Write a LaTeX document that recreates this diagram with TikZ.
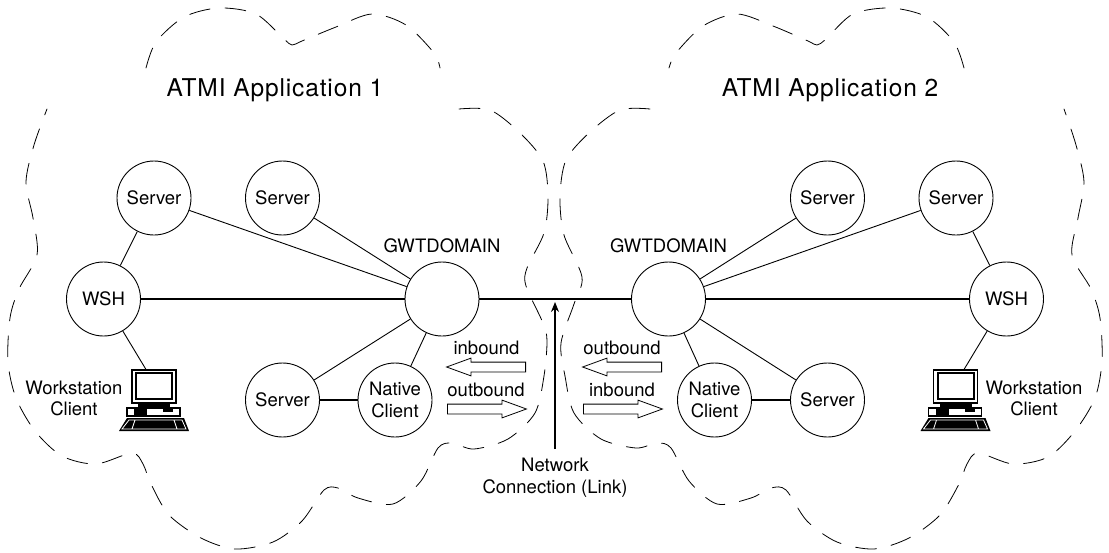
\documentclass[tikz,border=0pt]{standalone}
\usepackage{fontspec}
\setmainfont{TeX Gyre Heros}
\usetikzlibrary{arrows.meta, positioning, shapes.arrows}

\tikzset{
    proc/.style={circle, draw, line width=0.9pt, minimum size=74pt, inner sep=0pt, align=center},
    txt/.style={font=\fontsize{18.5}{21.5}\selectfont, align=center, inner sep=0pt},
    title/.style={font=\fontsize{24.5}{28}\selectfont\addfontfeatures{LetterSpace=3.6}, inner sep=0pt},
    link/.style={line width=0.9pt},
    trunk/.style={line width=2pt},
    cloud/.style={line width=0.8pt, dash pattern=on 21pt off 15pt, line cap=round},
    flow/.style={single arrow, draw, line width=0.8pt, minimum height=79pt, minimum width=17pt, anchor=tail,
        single arrow head extend=4pt, single arrow tip angle=40, single arrow head indent=0pt, inner sep=4.5pt},
    workstation/.pic={
        \draw [line width=1.6pt] (-22,-30) rectangle (22,3);
        \draw [line width=2pt] (-18,-27) rectangle (18,-1);
        \fill (-16,3) rectangle (16,8);
        \draw [line width=1.2pt] (-27,8) rectangle (26,16);
        \fill (-20,8) rectangle (-7,15);
        \fill (9,8) rectangle (19,12);
        \fill (-27,18) -- (30,18) -- (35,31) -- (-35,31) -- cycle;
        \draw [white, line width=0.8pt] (-25,20) -- (28,20) -- (32,29) -- (-32,29) -- cycle
            (-19,20) -- (-22,29) (20,20) -- (23,29);
    }
}

\begin{document}
\begin{tikzpicture}[x=1pt, y=-1pt, on grid]
    \useasboundingbox (0,0) rectangle (1109,552);

    % left domain
    \node (gw1) [proc] at (442,299) {};
    \node (srv1) [proc, above left=101pt and 288pt of gw1, txt] {Server};
    \node (srv2) [proc, above left=101pt and 159.5pt of gw1, txt] {Server};
    \node (wsh1) [proc, left=338.5pt of gw1, txt] {WSH};
    \node (srv3) [proc, below left=101pt and 159.5pt of gw1, txt] {Server};
    \node (nat1) [proc, below left=101pt and 47pt of gw1, txt] {Native\\Client};
    \node (gwl1) [above=53pt of gw1, txt] {GWTDOMAIN};

    % right domain
    \node (gw2) [proc, right=226.5pt of gw1] {};
    \node (srv4) [proc, above right=101pt and 159pt of gw2, txt] {Server};
    \node (srv5) [proc, above right=101pt and 287.5pt of gw2, txt] {Server};
    \node (wsh2) [proc, right=338pt of gw2, txt] {WSH};
    \node (srv6) [proc, below right=101pt and 159pt of gw2, txt] {Server};
    \node (nat2) [proc, below right=101pt and 46pt of gw2, txt] {Native\\Client};
    \node (gwl2) [above=53pt of gw2, txt] {GWTDOMAIN};

    \node (app1) [title] at (275,90) {ATMI Application 1};
    \node (app2) [title] at (830,90) {ATMI Application 2};

    \node (wsc1) [txt] at (74,398.5) {Workstation\\Client};
    \node (wsc2) [txt] at (1034,398.5) {Workstation\\Client};
    \node (net) [txt] at (555,477.5) {Network\\Connection (Link)};

    \pic at (154,400) {workstation};
    \pic at (955.5,400) {workstation};
    \coordinate (pc1) at (146,369.5);
    \coordinate (pc2) at (964,369.5);
    \coordinate (hit) at (555,302);
    \coordinate (tail) at (555,449);

    \node (in1) [txt] at (486.5,348) {inbound};
    \node (out1) [txt] at (486,390) {outbound};
    \node (out2) [txt] at (622,348) {outbound};
    \node (in2) [txt] at (622,390) {inbound};
    \node (arr1) [flow, shape border rotate=180] at (526,367) {};
    \node (arr2) [flow] at (447,409) {};
    \node (arr3) [flow, shape border rotate=180] at (662,367) {};
    \node (arr4) [flow] at (583,409) {};

    \path [link]
    (srv1) edge (gw1)
    (srv2) edge (gw1)
    (srv3) edge (gw1)
    (nat1) edge (gw1)
    (srv1) edge (wsh1)
    (wsh1) edge (pc1)
    (srv4) edge (gw2)
    (srv5) edge (gw2)
    (srv6) edge (gw2)
    (nat2) edge (gw2)
    (srv5) edge (wsh2)
    (wsh2) edge (pc2);

    \path [trunk]
    (wsh1) edge (gw1)
    (gw1) edge (gw2)
    (gw2) edge (wsh2)
    (srv3) edge (nat1)
    (nat2) edge (srv6);

    \draw [-{Stealth[length=10pt, width=8pt]}, line width=1.2pt] (tail) -- (hit);

    % clouds
    \draw [cloud] plot [smooth, tension=0.5] coordinates {(146,68) (156,42) (184,17) (219,8) (256,14) (284,39) (292,45) (302,41) (336,27) (372,14) (406,25) (434,53) (440,68)};
    \draw [cloud] plot [smooth, tension=0.5] coordinates {(459,109) (490,110) (519,132) (543,161) (548,197) (544,233) (527,268) (526,286) (543,323) (547,341) (544,376) (535,413) (508,439) (474,449) (452,443) (438,448) (421,481) (393,504) (358,498) (338,488) (324,490) (302,521) (273,542) (235,549) (201,538) (169,515) (151,484) (143,464) (132,453) (96,464) (62,456) (35,431) (16,398) (8,362) (10,318) (19,289) (37,255) (33,218) (26,182) (34,145) (47,109)};
    \draw [cloud] plot [smooth, tension=0.5] coordinates {(964,68) (954,42) (927,17) (891,8) (853,14) (826,39) (817,45) (808,41) (773,26) (737,14) (703,26) (676,53) (669,68)};
    \draw [cloud] plot [smooth, tension=0.5] coordinates {(650,109) (620,110) (590,132) (566,160) (560,197) (564,235) (582,277) (574,304) (561,343) (565,376) (574,413) (601,439) (636,448) (657,443) (671,448) (689,481) (717,504) (751,498) (771,488) (786,490) (807,521) (837,542) (874,549) (909,538) (940,515) (959,484) (967,464) (978,453) (1013,464) (1048,457) (1075,431) (1095,398) (1102,361) (1100,318) (1091,289) (1072,255) (1078,218) (1084,182) (1076,145) (1064,109)};
\end{tikzpicture}
\end{document}
